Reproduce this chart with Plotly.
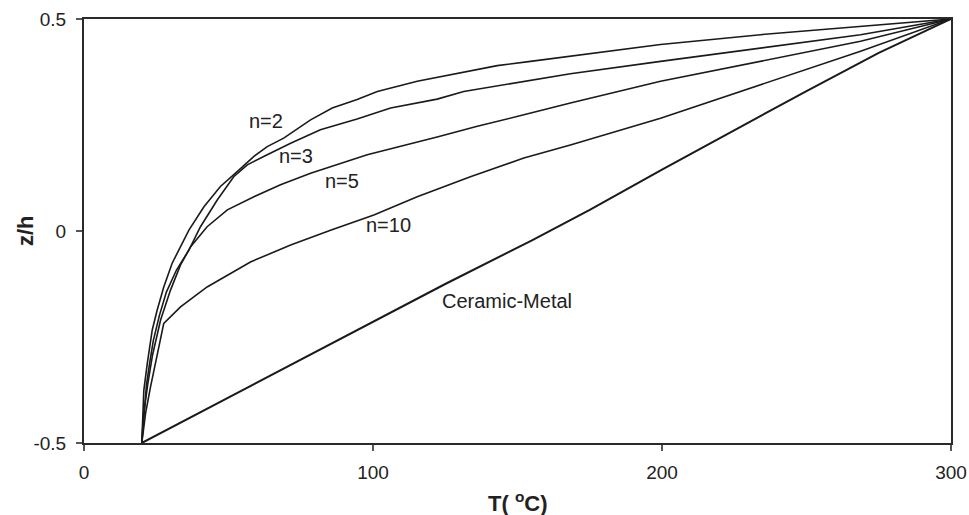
import plotly.graph_objects as go

# Through-thickness temperature T (deg C) against normalised position z/h
T_n2 = [20, 20.7, 21.9, 23.6, 25.3, 27.6, 30.5, 33.4, 36.3, 41.5, 47.2, 53.0, 58.8, 63.4,
        69.1, 78.4, 85.9, 94.5, 101.5, 115.3, 131.4, 143.0, 154.5, 167.2, 199.5, 234.1,
        268.7, 300]
z_n2 = [-0.5, -0.376, -0.312, -0.234, -0.187, -0.132, -0.076, -0.037, 0.002, 0.057, 0.105,
        0.140, 0.176, 0.199, 0.219, 0.262, 0.290, 0.310, 0.329, 0.353, 0.374, 0.390, 0.400,
        0.411, 0.440, 0.463, 0.483, 0.5]

T_n3 = [20, 20.8, 21.6, 22.7, 24.0, 26.1, 28.5, 32.0, 36.3, 40.3, 46.1, 51.8, 56.5, 63.4,
        71.5, 81.8, 94.5, 106.1, 122.2, 131.4, 152.2, 168.3, 199.5, 234.1, 268.7, 300]
z_n3 = [-0.5, -0.423, -0.364, -0.312, -0.258, -0.199, -0.144, -0.092, -0.045, 0.010, 0.073,
        0.128, 0.156, 0.180, 0.207, 0.239, 0.264, 0.290, 0.311, 0.329, 0.353, 0.371, 0.400,
        0.432, 0.463, 0.5]

T_n5 = [20, 20.6, 22.0, 23.7, 26.5, 29.9, 33.4, 36.9, 42.6, 49.6, 58.8, 68.0, 78.4, 85.3,
        98.0, 122.2, 136.1, 152.2, 168.3, 199.5, 234.1, 268.7, 300]
z_n5 = [-0.5, -0.435, -0.364, -0.293, -0.210, -0.140, -0.080, -0.037, 0.010, 0.050, 0.081,
        0.109, 0.136, 0.152, 0.180, 0.2215, 0.247, 0.274, 0.302, 0.353, 0.400, 0.4475, 0.5]

T_n10 = [20, 21.3, 23.0, 24.7, 26.5, 27.6, 33.4, 42.6, 57.6, 71.5, 85.3, 100.3, 115.3,
         133.7, 152.2, 168.3, 199.5, 234.1, 268.7, 300]
z_n10 = [-0.5, -0.430, -0.368, -0.312, -0.250, -0.218, -0.179, -0.132, -0.073, -0.033,
         0.002, 0.038, 0.081, 0.128, 0.172, 0.203, 0.266, 0.345, 0.424, 0.5]

T_cm = [20, 45, 75, 100, 125, 155, 175, 200, 225, 250, 275, 300]
z_cm = [-0.5, -0.411, -0.304, -0.214, -0.125, -0.022, 0.050, 0.145, 0.238, 0.330, 0.420, 0.5]

curve_names = ["n=2", "n=3", "n=5", "n=10", "Ceramic-Metal"]
curve_T = [T_n2, T_n3, T_n5, T_n10, T_cm]
curve_z = [z_n2, z_n3, z_n5, z_n10, z_cm]
curve_width = [1.6, 1.6, 1.6, 1.6, 2]

# In-plot labels (T, z/h) for each curve
label_T = [63.1, 73.5, 89.4, 105.4, 146.5]
label_z = [0.260, 0.177, 0.118, 0.014, -0.166]

x_ticks = [0, 100, 200, 300]
y_ticks = [-0.5, 0, 0.5]

x_title = "<b>T( <sup>o</sup>C)</b>"
y_title = "<b>z/h</b>"

FONT = "Liberation Sans, Arial, sans-serif"
INK = "#1a1a1a"

fig = go.Figure()
for name, xs, ys, w in zip(curve_names, curve_T, curve_z, curve_width):
    fig.add_trace(go.Scatter(x=xs, y=ys, mode="lines", name=name,
                             line=dict(color=INK, width=w), showlegend=False))

for name, lx, ly in zip(curve_names, label_T, label_z):
    fig.add_annotation(x=lx, y=ly, text=name, showarrow=False,
                       font=dict(family=FONT, size=20, color="#222"))

# Axis titles placed at fixed offsets from the plotting area
fig.add_annotation(xref="paper", yref="paper", x=0.5, y=0, yshift=-59,
                   xanchor="center", yanchor="middle", showarrow=False, text=x_title,
                   font=dict(family=FONT, size=22, color="#222"))
fig.add_annotation(xref="paper", yref="paper", x=0, y=0.5, xshift=-59,
                   xanchor="center", yanchor="middle", showarrow=False, text=y_title,
                   textangle=-90, font=dict(family=FONT, size=22, color="#222"))

axis_common = dict(showgrid=False, zeroline=False, showline=True, linewidth=2,
                   linecolor="#2a2a2a", mirror=True, ticks="outside", ticklen=6,
                   tickwidth=1.5, tickcolor="#555", automargin=False,
                   tickfont=dict(family=FONT, size=19, color="#222"))

fig.update_xaxes(range=[0, 300], tickvals=x_ticks, ticktext=[str(v) for v in x_ticks],
                 ticklabelstandoff=5, **axis_common)
fig.update_yaxes(range=[-0.5, 0.5], tickvals=y_ticks, ticktext=["-0.5", "0", "0.5"],
                 ticklabelstandoff=6, **axis_common)

fig.update_layout(width=969, height=515, plot_bgcolor="white", paper_bgcolor="white",
                  margin=dict(l=84, r=18, t=19, b=72))

fig.write_html("out.html")
